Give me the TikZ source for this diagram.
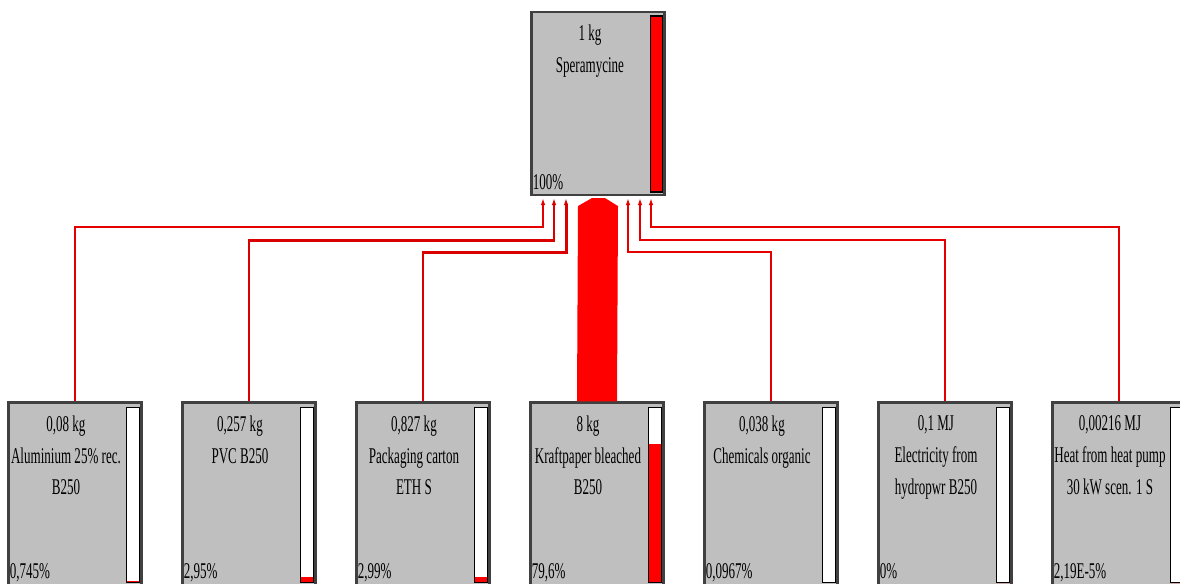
\documentclass[tikz,border=0pt]{standalone}
\usepackage{fontspec}
\setmainfont{Liberation Serif}[FakeStretch=0.58]
\usetikzlibrary{arrows.meta,calc}

\tikzset{
  procbox/.style={draw=black!75, line width=1.2pt, fill=black!25,
    minimum width=2.66cm, minimum height=3.66cm, inner sep=0pt},
  boxtext/.style={anchor=north, align=center, inner sep=0pt,
    font=\fontsize{12.8}{18}\selectfont},
  pcttext/.style={anchor=base west, inner sep=0pt,
    font=\fontsize{12.8}{18}\selectfont},
  barline/.style={draw=black, line width=.9pt},
  flowline/.style={draw=red!90!black, line width=1.1pt,
    -{Latex[length=4pt,width=2.6pt]}},
  thickflow/.style={flowline, draw=red!85!black, line width=1.7pt},
}

\begin{document}
\begin{tikzpicture}[x=0.02cm, y=-0.02cm, >=Latex]
  \clip (0,0) rectangle (1180,583);

  % output process
  \node[procbox] (prod) at (598,103.5) {};
  \draw[barline, fill=red] ($(prod.north east)+(-15,5)$) rectangle ($(prod.south east)+(-3,-4)$);
  \node[boxtext] (prod-txt) at ($(prod.north west)+(59.5,14)$) {1 kg\\Speramycine};
  \node[pcttext] (prod-pct) at ($(prod.south west)+(2,-7)$) {100\%};

  % input processes, bar filled by share
  \foreach \i/\amt/\name/\pct/\share in {
      1/{0,08 kg}/{Aluminium 25\% rec.\\B250}/{0,745\%}/0.00745,
      2/{0,257 kg}/{PVC B250}/{2,95\%}/0.0295,
      3/{0,827 kg}/{Packaging carton\\ETH S}/{2,99\%}/0.0299,
      4/{8 kg}/{Kraftpaper bleached\\B250}/{79,6\%}/0.796,
      5/{0,038 kg}/{Chemicals organic}/{0,0967\%}/0.000967,
      6/{0,1 MJ}/{Electricity from\\hydropwr B250}/{0\%}/0,
      7/{0,00216 MJ}/{Heat from heat pump\\30 kW scen. 1 S}/{2,19E-5\%}/0} {
    \node[procbox] (in\i) at (75+174*\i-174,494) {};
    \fill[white] ($(in\i.north east)+(-16,6)$) rectangle ($(in\i.south east)+(-3,-4)$);
    \fill[red] ($(in\i.south east)+(-16,-4)$) rectangle ($(in\i.south east)+(-3,-4-174*\share)$);
    \draw[barline] ($(in\i.north east)+(-16,6)$) rectangle ($(in\i.south east)+(-3,-4)$);
    \node[boxtext] (in\i-txt) at ($(in\i.north west)+(58.5,14)$) {\amt\\\name};
    \node[pcttext] (in\i-pct) at ($(in\i.south west)+(2,-8)$) {\pct};
  }

  % rails and inlets
  \coordinate (rail1) at (0,227);
  \coordinate (rail2) at (0,240);
  \coordinate (rail3) at (0,252);
  \coordinate (pin1) at ($(prod.south)+(-55,2)$);
  \coordinate (pin2) at ($(prod.south)+(-44,2)$);
  \coordinate (pin3) at ($(prod.south)+(-32,2)$);
  \coordinate (pin5) at ($(prod.south)+(30,2)$);
  \coordinate (pin6) at ($(prod.south)+(42,2)$);
  \coordinate (pin7) at ($(prod.south)+(53,2)$);

  \draw[flowline] (in1.north) |- (rail1 -| pin1) -- (pin1);
  \draw[thickflow] (in2.north) |- (rail2 -| pin2) -- (pin2);
  \draw[thickflow] (in3.north) |- (rail3 -| pin3) -- (pin3);
  \draw[flowline] (in5.north) |- (rail3 -| pin5) -- (pin5);
  \draw[flowline] (in6.north) |- (rail2 -| pin6) -- (pin6);
  \draw[flowline] (in7.north) |- (rail1 -| pin7) -- (pin7);
  \fill[red] ($(in4.north)+(-20,0)$) -- ($(prod.south)+(-20,10)$) -- ($(prod.south)+(-6,2)$)
    -- ($(prod.south)+(7,2)$) -- ($(prod.south)+(20,10)$) -- ($(in4.north)+(20,0)$) -- cycle;
\end{tikzpicture}
\end{document}
